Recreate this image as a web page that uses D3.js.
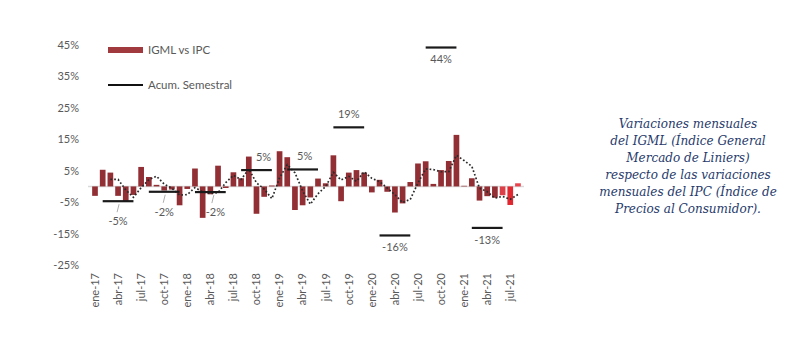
<!DOCTYPE html>
<html>
<head>
<meta charset="utf-8">
<script src="https://cdn.jsdelivr.net/npm/d3@7"></script>
<style>
  html, body { margin: 0; padding: 0; background: #fff; }
  svg { display: block; }
</style>
</head>
<body>
<svg id="chart" width="800" height="344"></svg>
<script>
// ---------- data ----------
const months = [
  "ene-17","feb-17","mar-17","abr-17","may-17","jun-17","jul-17","ago-17","sep-17","oct-17","nov-17","dic-17",
  "ene-18","feb-18","mar-18","abr-18","may-18","jun-18","jul-18","ago-18","sep-18","oct-18","nov-18","dic-18",
  "ene-19","feb-19","mar-19","abr-19","may-19","jun-19","jul-19","ago-19","sep-19","oct-19","nov-19","dic-19",
  "ene-20","feb-20","mar-20","abr-20","may-20","jun-20","jul-20","ago-20","sep-20","oct-20","nov-20","dic-20",
  "ene-21","feb-21","mar-21","abr-21","may-21","jun-21","jul-21","ago-21"
];
// IGML vs IPC, monthly variation (%)
const igmlVsIpc = [
  -3.0, 5.3, 4.4, -3.0, -4.7, -2.7, 6.2, 3.0, 0.5, -1.3, -1.0, -6.0,
  -0.8, 5.7, -10.0, -2.5, 6.6, -0.5, 4.5, 2.6, 9.5, -8.7, -3.3, 0.3,
  11.2, 9.3, -7.5, -6.0, -3.5, 2.5, 1.0, 9.9, -4.7, 4.4, 5.2, 4.4,
  -1.9, 2.1, -1.7, -8.3, -5.4, 1.4, 7.3, 8.0, 0.8, 5.2, 8.1, 16.4,
  0.2, 2.6, -4.5, -3.1, -3.6, -2.8, -5.9, 1.0
];
// Acumulado semestral (%)
const semesters = ["S1-17","S2-17","S1-18","S2-18","S1-19","S2-19","S1-20","S2-20","S1-21"];
const acumSemestral = [-4.7, -1.7, -1.8, 5.2, 5.4, 18.8, -15.6, 44.2, -13.2];
const yTicks = [-25, -15, -5, 5, 15, 25, 35, 45];
const xTickMonths = months.filter((m, i) => i % 3 === 0);
const highlightMonths = ["jun-21", "jul-21", "ago-21"];
const seriesNames = ["IGML vs IPC", "Acum. Semestral"];
const noteLines = [
  "Variaciones mensuales",
  "del IGML (Índice General",
  "Mercado de Liniers)",
  "respecto de las variaciones",
  "mensuales del IPC (Índice de",
  "Precios al Consumidor)."
];

// ---------- styles ----------
const FONT = "Lato, 'Open Sans', sans-serif";
const GRAY = "#595959";
const BAR = "#922f35";
const highlightColor = { "jun-21": "#dc3f48", "jul-21": "#e0262f", "ago-21": "#e8434d" };
const labelShift = { "S1-18": 5, "S2-18": 7, "S1-19": 2 };

// ---------- chart ----------
const svg = d3.select("#chart");
svg.append("rect").attr("width", 800).attr("height", 344).attr("fill", "#fff");

const x = d3.scaleBand().domain(months).range([91.15, 521.8]).paddingInner(0.26).paddingOuter(0.13);
const y = d3.scaleLinear().domain([-25, 45]).range([265, 45]);
const cx = m => x(m) + x.bandwidth() / 2;

// y axis
const yAxis = svg.append("g").attr("transform", "translate(79,0)")
  .call(d3.axisLeft(y).tickValues(yTicks).tickFormat(d => d + "%").tickSize(0).tickPadding(0));
yAxis.select(".domain").remove();
yAxis.selectAll("text").attr("fill", GRAY).style("font-family", FONT).style("font-size", "11px");

// x axis
const xAxis = svg.append("g").attr("transform", "translate(0,268)")
  .call(d3.axisBottom(x).tickValues(xTickMonths).tickSize(0).tickPadding(0));
xAxis.select(".domain").remove();
xAxis.selectAll("text")
  .attr("transform", "rotate(-90)")
  .attr("x", -5).attr("y", 0).attr("dy", "0.35em")
  .style("text-anchor", "end")
  .attr("fill", GRAY).style("font-family", FONT).style("font-size", "11px");

// zero line
svg.append("line")
  .attr("x1", 88).attr("x2", 524)
  .attr("y1", y(0)).attr("y2", y(0))
  .attr("stroke", "#d9d9d9").attr("stroke-width", 1.5);

// bars
const barData = months.map((m, i) => ({ m, v: igmlVsIpc[i] }));
svg.append("g").selectAll("rect").data(barData).join("rect")
  .attr("x", d => x(d.m))
  .attr("width", x.bandwidth())
  .attr("y", d => y(Math.max(0, d.v)))
  .attr("height", d => Math.abs(y(d.v) - y(0)))
  .attr("fill", d => highlightMonths.includes(d.m) ? highlightColor[d.m] : BAR);

// moving average (3 months) trendline of the bars
const ma = barData.slice(2).map((d, k) => ({
  m: d.m,
  v: d3.mean(igmlVsIpc.slice(k, k + 3))
}));
svg.append("path")
  .datum(ma)
  .attr("fill", "none")
  .attr("stroke", "#2a2a2a")
  .attr("stroke-width", 1.7)
  .attr("stroke-dasharray", "1.7,2.1")
  .attr("d", d3.line().x(d => cx(d.m)).y(d => y(d.v)));

// semester accumulated lines
const acum = semesters.map((s, k) => ({
  s, v: acumSemestral[k],
  m0: months[k * 6 + 1], m1: months[k * 6 + 5]
}));
const ag = svg.append("g");
ag.selectAll("line.acum").data(acum).join("line").attr("class", "acum")
  .attr("x1", d => cx(d.m0)).attr("x2", d => cx(d.m1))
  .attr("y1", d => y(d.v)).attr("y2", d => y(d.v))
  .attr("stroke", "#1a1a1a").attr("stroke-width", 2.2);

const labelPos = d => {
  const yy = y(d.v);
  if (d.v > 0 && d.v < 40) return { ly: yy - 13, leader: false };
  if (d.v < 0 && d.v > -10) return { ly: yy + 20, leader: true };
  return { ly: yy + 12, leader: false };
};
const midX = d => (cx(d.m0) + cx(d.m1)) / 2;
ag.selectAll("line.leader").data(acum.filter(d => labelPos(d).leader)).join("line").attr("class", "leader")
  .attr("x1", d => midX(d) + (labelShift[d.s] || 0) * 0.5 + 1)
  .attr("x2", d => midX(d) + (labelShift[d.s] || 0) * 0.5 - 1)
  .attr("y1", d => y(d.v) + 3).attr("y2", d => y(d.v) + 11)
  .attr("stroke", "#9a9a9a").attr("stroke-width", 0.8);
ag.selectAll("text").data(acum).join("text")
  .attr("x", d => midX(d) + (labelShift[d.s] || 0))
  .attr("y", d => labelPos(d).ly)
  .attr("dy", "0.35em")
  .attr("text-anchor", "middle")
  .attr("fill", GRAY)
  .style("font-family", FONT).style("font-size", "11px")
  .text(d => Math.round(d.v) + "%");

// legend
const lg = svg.append("g");
lg.append("rect").attr("x", 108).attr("y", 47).attr("width", 35).attr("height", 6).attr("fill", "#a13a3f");
lg.append("text").attr("x", 148).attr("y", 50).attr("dy", "0.35em")
  .attr("fill", GRAY).style("font-family", FONT).style("font-size", "11.5px").text(seriesNames[0]);
lg.append("line").attr("x1", 108).attr("x2", 143).attr("y1", 85).attr("y2", 85)
  .attr("stroke", "#111").attr("stroke-width", 2);
lg.append("text").attr("x", 148).attr("y", 85).attr("dy", "0.35em")
  .attr("fill", GRAY).style("font-family", FONT).style("font-size", "11.5px").text(seriesNames[1]);

// side note
svg.append("g").selectAll("text").data(noteLines).join("text")
  .attr("x", 688)
  .attr("y", (d, i) => 127.5 + i * 17)
  .attr("text-anchor", "middle")
  .attr("fill", "#263a6b")
  .style("font-family", "'DejaVu Serif', serif")
  .style("font-style", "italic")
  .style("font-size", "12px")
  .text(d => d);
</script>
</body>
</html>
